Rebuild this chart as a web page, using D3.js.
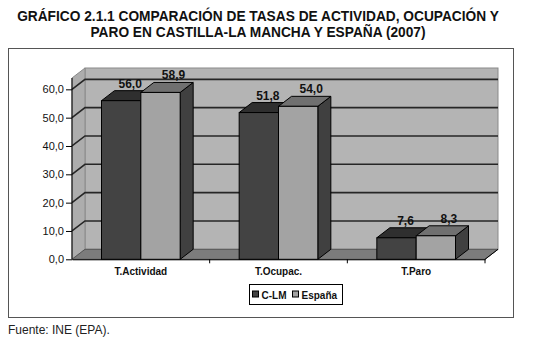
<!DOCTYPE html>
<html>
<head>
<meta charset="utf-8">
<script src="https://cdn.jsdelivr.net/npm/d3@7"></script>
<style>
  html, body { margin: 0; padding: 0; background: #fff; }
  svg { display: block; font-family: "Liberation Sans", Arial, sans-serif; }
</style>
</head>
<body>
<svg id="chart" width="550" height="340"></svg>
<script>
// Tasas de actividad, ocupación y paro (2007)
const categories = ["T.Actividad", "T.Ocupac.", "T.Paro"];
const series = ["C-LM", "España"];
const clmValues = [56.0, 51.8, 7.6];
const espanaValues = [58.9, 54.0, 8.3];
const yTicks = [0, 10, 20, 30, 40, 50, 60];
const yWallTop = 64;
const titleLines = [
  "GRÁFICO 2.1.1 COMPARACIÓN DE TASAS DE ACTIVIDAD, OCUPACIÓN Y",
  "PARO EN CASTILLA-LA MANCHA Y ESPAÑA (2007)"
];
const sourceText = "Fuente: INE (EPA).";

const valuesBySeries = [clmValues, espanaValues];
const rows = categories.map((c, i) => ({
  category: c,
  values: series.map((s, j) => ({ series: s, value: valuesBySeries[j][i] }))
}));

const svg = d3.select("#chart");
const fmt = v => d3.format(".1f")(v).replace(".", ",");

// 3D depth offset
const DX = 13, DY = -10;

const x = d3.scaleBand().domain(categories).range([72, 485]).paddingInner(0).paddingOuter(0);
const xs = d3.scaleBand().domain(series).range([0, x.bandwidth()]).paddingInner(0).paddingOuter(0.75);
const y = d3.scaleLinear().domain([0, yWallTop]).range([259.3, 78]);

const colors = {
  "C-LM":   { front: "#434343", top: "#2f2f2f", side: "#2b2b2b" },
  "España": { front: "#a3a3a3", top: "#707070", side: "#404040" }
};

// Title
const title = svg.append("g");
titleLines.forEach((t, i) => {
  title.append("text")
    .attr("x", 258).attr("y", 20.5 + i * 16)
    .attr("text-anchor", "middle")
    .attr("font-weight", "bold")
    .attr("font-size", 15)
    .attr("fill", "#111")
    .text(t);
});
// scale the title so the first line spans its box width
{
  const first = title.select("text").node();
  const w = first.getComputedTextLength();
  const size = 15 * 482 / w;
  title.selectAll("text").attr("font-size", size);
}

// Outer frame
svg.append("rect")
  .attr("x", 8.5).attr("y", 48.5).attr("width", 505).attr("height", 269)
  .attr("fill", "none").attr("stroke", "#555").attr("stroke-width", 1);

// Source note
svg.append("text")
  .attr("x", 8).attr("y", 334)
  .attr("font-size", 12).attr("fill", "#222")
  .text(sourceText);

const [x0, x1] = x.range();
const y0 = y(0), yTop = y(yWallTop);

// Back wall
svg.append("rect")
  .attr("x", x0 + DX).attr("y", yTop + DY)
  .attr("width", x1 - x0).attr("height", y0 - yTop)
  .attr("fill", "#b4b4b4").attr("stroke", "#8a8a8a").attr("stroke-width", 1);

// Left wall
svg.append("path")
  .attr("d", `M${x0},${y0} L${x0 + DX},${y0 + DY} L${x0 + DX},${yTop + DY} L${x0},${yTop} Z`)
  .attr("fill", "#adadad").attr("stroke", "#8a8a8a").attr("stroke-width", 1);

// Floor
svg.append("path")
  .attr("d", `M${x0},${y0} L${x1},${y0} L${x1 + DX},${y0 + DY} L${x0 + DX},${y0 + DY} Z`)
  .attr("fill", "#7c7c7c").attr("stroke", "#555").attr("stroke-width", 1);

// Gridlines (left wall diagonal + back wall horizontal)
svg.append("g").selectAll("path")
  .data(yTicks.filter(t => t > 0))
  .join("path")
  .attr("d", t => `M${x0},${y(t)} L${x0 + DX},${y(t) + DY} L${x1 + DX},${y(t) + DY}`)
  .attr("fill", "none").attr("stroke", "#262626").attr("stroke-width", 1.6);

// Y axis
const yAxis = d3.axisLeft(y).tickValues(yTicks).tickFormat(fmt).tickSize(6).tickPadding(2);
const gy = svg.append("g").attr("transform", `translate(${x0},0)`).call(yAxis);
gy.select(".domain").attr("stroke", "#000").attr("d", `M-0,${y0}V${yTop}`);
gy.selectAll(".tick line").attr("stroke", "#000");
gy.selectAll(".tick text").attr("font-size", 11).attr("fill", "#111")
  .attr("font-family", "'Liberation Sans', Arial, sans-serif");

// X axis
const xAxis = d3.axisBottom(x).tickSize(0).tickPadding(9);
const gx = svg.append("g").attr("transform", `translate(0,${y0})`).call(xAxis);
gx.select(".domain").attr("stroke", "#000");
gx.selectAll(".tick text").attr("font-size", 10).attr("font-weight", "bold").attr("fill", "#111")
  .attr("font-family", "'Liberation Sans', Arial, sans-serif");
// category separator ticks
svg.append("g").selectAll("line")
  .data(categories)
  .join("line")
  .attr("x1", c => x(c) + x.bandwidth()).attr("x2", c => x(c) + x.bandwidth())
  .attr("y1", y0).attr("y2", y0 + 4)
  .attr("stroke", "#000");
svg.append("line")
  .attr("x1", x1).attr("y1", y0).attr("x2", x1 + DX).attr("y2", y0 + DY)
  .attr("stroke", "#000");

// Bars
const bars = svg.append("g").selectAll("g")
  .data(rows.flatMap(r => r.values.map(v => ({ category: r.category, ...v }))))
  .join("g");

bars.each(function (d) {
  const g = d3.select(this);
  const bx = x(d.category) + xs(d.series);
  const bw = xs.bandwidth();
  const by = y(d.value);
  const c = colors[d.series];
  // side face
  g.append("path")
    .attr("d", `M${bx + bw},${y0} L${bx + bw + DX},${y0 + DY} L${bx + bw + DX},${by + DY} L${bx + bw},${by} Z`)
    .attr("fill", c.side).attr("stroke", "#000").attr("stroke-width", 1).attr("stroke-linejoin", "round");
  // top face
  g.append("path")
    .attr("d", `M${bx},${by} L${bx + DX},${by + DY} L${bx + bw + DX},${by + DY} L${bx + bw},${by} Z`)
    .attr("fill", c.top).attr("stroke", "#000").attr("stroke-width", 1).attr("stroke-linejoin", "round");
  // front face
  g.append("rect")
    .attr("x", bx).attr("y", by).attr("width", bw).attr("height", y0 - by)
    .attr("fill", c.front).attr("stroke", "#000").attr("stroke-width", 1);
});

// Value labels
svg.append("g").selectAll("text")
  .data(rows.flatMap(r => r.values.map(v => ({ category: r.category, ...v }))))
  .join("text")
  .attr("x", d => x(d.category) + xs(d.series) + xs.bandwidth() / 2 + (d.series === "C-LM" ? 9 : 13))
  .attr("y", d => y(d.value) + DY - 3)
  .attr("text-anchor", "middle")
  .attr("font-size", 12).attr("font-weight", "bold").attr("fill", "#111")
  .text(d => fmt(d.value));

// Legend
const legend = svg.append("g").attr("transform", "translate(249.5,284.5)");
legend.append("rect").attr("width", 93).attr("height", 20)
  .attr("fill", "#fff").attr("stroke", "#000").attr("stroke-width", 1);
const legendX = [3, 43];
series.forEach((s, i) => {
  legend.append("rect")
    .attr("x", legendX[i]).attr("y", 6.5).attr("width", 6).attr("height", 6)
    .attr("fill", colors[s].front).attr("stroke", "#000").attr("stroke-width", 1);
  legend.append("text")
    .attr("x", legendX[i] + 9).attr("y", 14)
    .attr("font-size", 10).attr("font-weight", "bold").attr("fill", "#111")
    .text(s);
});
</script>
</body>
</html>
